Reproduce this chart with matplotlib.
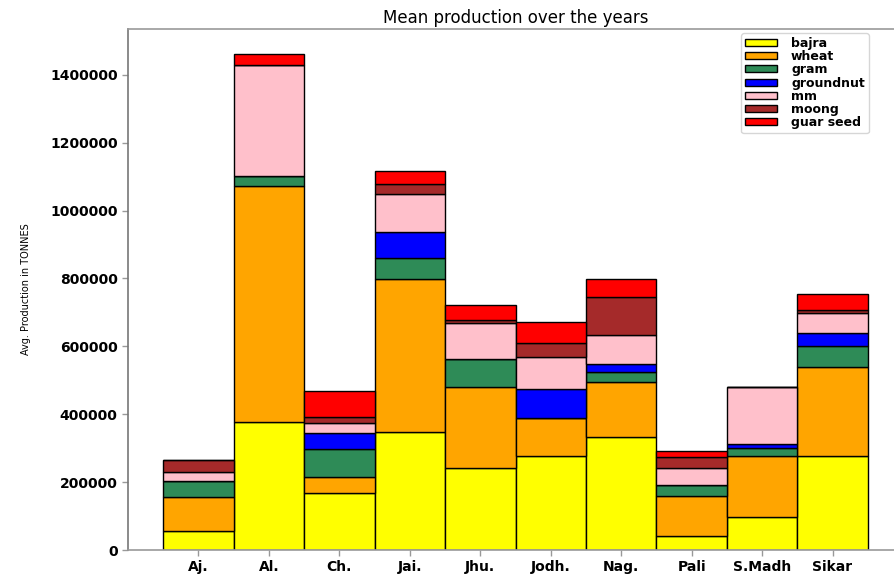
import matplotlib
matplotlib.use("Agg")
import matplotlib.pyplot as plt
import numpy as np

districts = ["Aj.", "Al.", "Ch.", "Jai.", "Jhu.", "Jodh.", "Nag.", "Pali", "S.Madh", "Sikar"]

bajra     = [57000, 377000, 168000, 348000, 242000, 277000, 333000, 41000, 97000, 277000]
wheat     = [99000, 696000, 47000, 451000, 238000, 112000, 162000, 118000, 180000, 262000]
gram      = [47000, 29000, 83000, 62000, 83000, 0, 30000, 32000, 23000, 62000]
groundnut = [0, 0, 47000, 76000, 0, 85000, 23000, 0, 12000, 39000]
mm        = [27000, 327000, 29000, 112000, 106000, 95000, 86000, 51000, 168000, 58000]
moong     = [35000, 0, 18000, 30000, 9000, 41000, 112000, 32000, 0, 9000]
guar_seed = [0, 33000, 77000, 38000, 44000, 62000, 53000, 18000, 0, 47000]

crops = [
    ("bajra", bajra, "yellow"),
    ("wheat", wheat, "orange"),
    ("gram", gram, "seagreen"),
    ("groundnut", groundnut, "blue"),
    ("mm", mm, "pink"),
    ("moong", moong, "brown"),
    ("guar seed", guar_seed, "red"),
]

fig = plt.figure(figsize=(8.94, 5.74), dpi=100)
ax = fig.add_axes([128 / 894, 24 / 574, 775 / 894, 521 / 574])

x = np.arange(len(districts))
bottom = np.zeros(len(districts))
for name, vals, color in crops:
    v = np.array(vals, dtype=float)
    ax.bar(x, v, width=1.0, bottom=bottom, color=color, edgecolor="black",
           linewidth=1.0, label=name)
    bottom += v

ax.set_xlim(-1, len(districts))
ax.set_ylim(0, bottom.max() * 1.05)
ax.set_xticks(x)
ax.set_xticklabels(districts, fontweight="bold", fontsize=10)
ax.set_yticks(np.arange(0, 1400001, 200000))
ax.set_yticklabels([str(t) for t in range(0, 1400001, 200000)],
                   fontweight="bold", fontsize=10)
ax.tick_params(axis="both", color="#999999", length=4, width=1)

for s in ax.spines.values():
    s.set_color("#9a9a9a")
    s.set_linewidth(1.2)
ax.spines["left"].set_color("#777777")

ax.set_title("Mean production over the years", fontsize=12, pad=4)
ax.set_xlabel("Districts", fontsize=9.5, labelpad=4)
ax.set_ylabel("Avg. Production in TONNES", fontsize=7, labelpad=14)

leg = ax.legend(loc="upper left", bbox_to_anchor=(741 / 894, 1 - 33 / 574),
                bbox_transform=fig.transFigure, borderaxespad=0.0,
                prop={"weight": "bold", "size": 9},
                handlelength=2.6, handleheight=0.5, handletextpad=1.1,
                labelspacing=0.02, borderpad=0.3, fancybox=True)

fig.savefig("out.png", dpi=100)
